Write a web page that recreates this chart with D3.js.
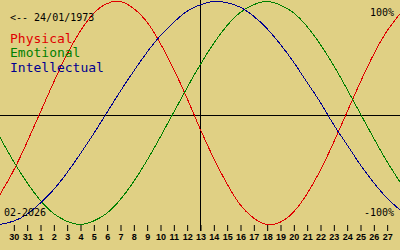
<!DOCTYPE html>
<html>
<head>
<meta charset="utf-8">
<script src="https://cdn.jsdelivr.net/npm/d3@7"></script>
<style>
  body { margin: 0; background: #e0d084; }
  svg { display: block; }
</style>
</head>
<body>
<script>
// day offsets from today (13/02/2026)
const days = [-15, -14, -13, -12, -11, -10, -9, -8, -7, -6, -5, -4, -3, -2, -1, 0,
              1, 2, 3, 4, 5, 6, 7, 8, 9, 10, 11, 12, 13, 14, 15];

const physical = [-0.73, -0.52, -0.27, 0, 0.27, 0.52, 0.73, 0.89, 0.98, 1.0, 0.94, 0.82, 0.63, 0.4, 0.14, -0.14,
                  -0.4, -0.63, -0.82, -0.94, -1.0, -0.98, -0.89, -0.73, -0.52, -0.27, 0, 0.27, 0.52, 0.73, 0.89];
const emotional = [-0.22, -0.43, -0.62, -0.78, -0.9, -0.97, -1.0, -0.97, -0.9, -0.78, -0.62, -0.43, -0.22, 0, 0.22, 0.43,
                   0.62, 0.78, 0.9, 0.97, 1.0, 0.97, 0.9, 0.78, 0.62, 0.43, 0.22, 0, -0.22, -0.43, -0.62];
const intellectual = [-1.0, -0.97, -0.91, -0.81, -0.69, -0.54, -0.37, -0.19, 0, 0.19, 0.37, 0.54, 0.69, 0.81, 0.91, 0.97,
                      1.0, 0.99, 0.95, 0.87, 0.76, 0.62, 0.46, 0.28, 0.1, -0.1, -0.28, -0.46, -0.62, -0.76, -0.87];

const tickDays = [-14, -13, -12, -11, -10, -9, -8, -7, -6, -5, -4, -3, -2, -1, 0,
                  1, 2, 3, 4, 5, 6, 7, 8, 9, 10, 11, 12, 13, 14];
const tickLabels = ["30", "31", "1", "2", "3", "4", "5", "6", "7", "8", "9", "10", "11", "12", "13",
                    "14", "15", "16", "17", "18", "19", "20", "21", "22", "23", "24", "25", "26", "27"];

const seriesNames = ["Physical", "Emotional", "Intellectual"];
const seriesColors = ["#e00000", "#008000", "#000090"];

const width = 400, height = 250;

const svg = d3.select("body").append("svg")
    .attr("width", width)
    .attr("height", height);

const x = d3.scaleLinear().domain([-15, 15]).range([0, width]);
const y = d3.scaleLinear().domain([-1, 1]).range([224.5, 1.5]);

// axes lines
svg.append("line")
    .attr("x1", 0).attr("x2", width)
    .attr("y1", 115.5).attr("y2", 115.5)
    .attr("stroke", "#000").attr("stroke-width", 1);
svg.append("line")
    .attr("x1", x(0) + 0.5).attr("x2", x(0) + 0.5)
    .attr("y1", 0).attr("y2", 231)
    .attr("stroke", "#000").attr("stroke-width", 1);

// day ticks
const axis = d3.axisBottom(x)
    .tickValues(tickDays)
    .tickSize(6)
    .tickPadding(3)
    .tickFormat((d, i) => tickLabels[i]);

const gx = svg.append("g")
    .attr("transform", "translate(0.5,225)")
    .call(axis);
gx.select(".domain").remove();
gx.selectAll(".tick line").attr("stroke", "#000");
gx.selectAll(".tick text")
    .attr("fill", "#000")
    .attr("font-family", "Liberation Sans")
    .attr("font-weight", "bold")
    .attr("font-size", 9);

const line = d3.line()
    .x((d, i) => x(days[i]))
    .y((d) => y(d))
    .curve(d3.curveNatural);

[physical, emotional, intellectual].forEach((s, k) => {
  svg.append("path")
    .datum(s)
    .attr("fill", "none")
    .attr("stroke", seriesColors[k])
    .attr("stroke-width", 1)
    .attr("shape-rendering", "crispEdges")
    .attr("d", line);
});

// texts
const mono = "DejaVu Sans Mono";
svg.append("text")
    .attr("x", 10).attr("y", 21)
    .attr("font-family", mono).attr("font-size", 10)
    .text("<-- 24/01/1973");

seriesNames.forEach((n, k) => {
  svg.append("text")
    .attr("x", 10).attr("y", 42.5 + k * 14.7)
    .attr("font-family", mono).attr("font-size", 13)
    .attr("fill", seriesColors[k])
    .text(n);
});

svg.append("text")
    .attr("x", 394).attr("y", 15.5)
    .attr("text-anchor", "end")
    .attr("font-family", mono).attr("font-size", 10)
    .text("100%");

svg.append("text")
    .attr("x", 394).attr("y", 216)
    .attr("text-anchor", "end")
    .attr("font-family", mono).attr("font-size", 10)
    .text("-100%");

svg.append("text")
    .attr("x", 4).attr("y", 216)
    .attr("font-family", mono).attr("font-size", 10)
    .text("02-2026");
</script>
</body>
</html>
